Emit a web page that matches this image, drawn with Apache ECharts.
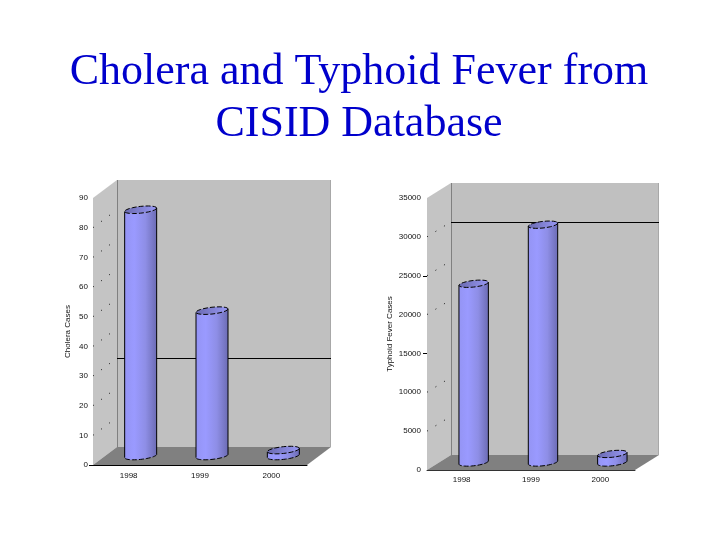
<!DOCTYPE html>
<html><head><meta charset="utf-8">
<style>html,body{margin:0;padding:0;background:#fff}#c{width:720px;height:540px}</style>
<script src="https://cdn.jsdelivr.net/npm/echarts@6/dist/echarts.min.js"></script>
</head><body><div id="c"></div>
<script>
const titleText = "Cholera and Typhoid Fever from\nCISID Database";
const years = ["1998", "1999", "2000"];
const choleraCases = [83, 49, 2];
const typhoidCases = [23000, 30600, 1100];
const choleraLimit = 30;
const typhoidLimit = 30000;
const choleraMax = 90, choleraStep = 10;
const typhoidMax = 35000, typhoidStep = 5000;
const choleraName = "Cholera Cases";
const typhoidName = "Typhoid Fever Cases";
const choleraGridValues = [10,20,30,40,50,60,70,80];
const typhoidGridValues = [5000,10000,20000,25000,30000];
const choleraLongTicks = [0];
const typhoidLongTicks = [15000,25000];

const panels = [
  {box:{left:93,top:198,width:214,height:267}, depth:[24,18], r:16, ry:3.4, shear:1.7, lab:7, labY:5, nameGap:21, axisColor:'#000'},
  {box:{left:427,top:198,width:208,height:272}, depth:[24,15], r:14.7, ry:3.3, shear:1.6, lab:6, labY:6, nameGap:33, axisColor:'#333'}
];
const font = 'Liberation Sans';
const crisp = v => Math.round(v) + 0.5;

function wallItem(i, limit, gridVals, longTicks){
  const d = panels[i].depth;
  return function(params, api){
    const cs = params.coordSys, l=cs.x, r=cs.x+cs.width, t=cs.y, b=cs.y+cs.height;
    const kids = [
      {type:'polygon',shape:{points:[[l,t],[l+d[0],t-d[1]],[l+d[0],b-d[1]],[l,b]]},style:{fill:'#c4c4c4'}},
      {type:'polygon',shape:{points:[[l+d[0],t-d[1]],[r+d[0],t-d[1]],[r+d[0],b-d[1]],[l+d[0],b-d[1]]]},style:{fill:'#c0c0c0'}},
      {type:'polygon',shape:{points:[[l,b],[r,b],[r+d[0],b-d[1]],[l+d[0],b-d[1]]]},style:{fill:'#808080'}},
      {type:'line',shape:{x1:l+d[0]+0.5,y1:t-d[1],x2:l+d[0]+0.5,y2:b-d[1]},style:{stroke:'#808080',lineWidth:1}},
      {type:'line',shape:{x1:r+d[0]-0.5,y1:t-d[1],x2:r+d[0]-0.5,y2:b-d[1]},style:{stroke:'#a8a8a8',lineWidth:1}}
    ];
    const ly = crisp(api.coord([0,limit])[1]-d[1]);
    kids.push({type:'line',shape:{x1:l+d[0],y1:ly,x2:r+d[0],y2:ly},style:{stroke:'#000',lineWidth:1}});
    gridVals.forEach(v=>{
      const y=api.coord([0,v])[1];
      kids.push({type:'line',shape:{x1:l,y1:y,x2:l+d[0],y2:y-d[1]},style:{stroke:'#111',lineWidth:1,lineDash:[1,9]}});
    });
    longTicks.forEach(v=>{
      const y=crisp(api.coord([0,v])[1]);
      kids.push({type:'line',shape:{x1:l-4,y1:y,x2:l,y2:y},style:{stroke:'#000',lineWidth:1}});
    });
    return {type:'group',children:kids};
  };
}

function barItem(i){
  const p = panels[i];
  return function(params, api){
    const c = api.coord([api.value(0), 0]);
    const top = api.coord([api.value(0), api.value(1)]);
    const cx = c[0]+p.depth[0]/2, by = c[1]-p.depth[1]/2, ty = top[1]-p.depth[1]/2;
    const N=24, ell=(cy,a0,a1)=>{
      const pts=[];
      for(let k=0;k<=N;k++){
        const a=a0+(a1-a0)*k/N;
        pts.push([cx+p.r*Math.cos(a), cy+p.ry*Math.sin(a)-p.shear*Math.cos(a)]);
      }
      return pts;
    };
    const grad = {type:'linear',x:0,y:0,x2:1,y2:0,colorStops:[
      {offset:0,color:'#9494f4'},{offset:0.3,color:'#9a9aff'},{offset:0.65,color:'#8e8ee6'},{offset:1,color:'#6c6cb4'}]};
    const capGrad = {type:'linear',x:0,y:0,x2:1,y2:0,colorStops:[
      {offset:0,color:'#6a6ab0'},{offset:1,color:'#9898f4'}]};
    return {type:'group',children:[
      {type:'polygon',shape:{points:ell(by,0,Math.PI).concat(ell(ty,Math.PI,0))},style:{fill:grad}},
      {type:'polygon',shape:{points:ell(ty,0,2*Math.PI)},style:{fill:capGrad}},
      {type:'polyline',shape:{points:ell(by,0,Math.PI)},style:{fill:'none',stroke:'#000',lineWidth:1,lineDash:[5,2]}},
      {type:'polygon',shape:{points:ell(ty,0,2*Math.PI)},style:{fill:'none',stroke:'#000',lineWidth:1,lineDash:[5,2]}},
      {type:'line',shape:{x1:cx-p.r,y1:by+p.shear,x2:cx-p.r,y2:ty+p.shear},style:{stroke:'#000',lineWidth:1}},
      {type:'line',shape:{x1:cx+p.r,y1:by-p.shear,x2:cx+p.r,y2:ty-p.shear},style:{stroke:'#000',lineWidth:1}}
    ]};
  };
}

function xAxis(i){
  return {type:'category',gridIndex:i,data:years,boundaryGap:true,
    axisLine:{show:true,lineStyle:{color:panels[i].axisColor,width:1}},axisTick:{show:false},splitLine:{show:false},
    axisLabel:{color:'#111',fontFamily:font,fontSize:8,margin:panels[i].lab}};
}
function yAxis(i,max,step,name){
  return {type:'value',gridIndex:i,min:0,max:max,interval:step,name:name,nameLocation:'middle',nameGap:panels[i].nameGap,
    nameTextStyle:{color:'#111',fontFamily:font,fontSize:8},
    axisLine:{show:false},axisTick:{show:false},splitLine:{show:false},
    axisLabel:{color:'#111',fontFamily:font,fontSize:8,margin:panels[i].labY,formatter:v=>String(v)}};
}
function series(i,vals,limit,gridVals,longTicks){
  return [
    {type:'custom',xAxisIndex:i,yAxisIndex:i,z:1,silent:true,data:[[0,0]],encode:{x:0,y:1},renderItem:wallItem(i,limit,gridVals,longTicks)},
    {type:'custom',xAxisIndex:i,yAxisIndex:i,z:3,silent:true,data:vals.map((v,k)=>[k,v]),encode:{x:0,y:1},renderItem:barItem(i)}
  ];
}

const chart = echarts.init(document.getElementById('c'),null,{renderer:'canvas'});
chart.setOption({
  animation:false,backgroundColor:'#fff',
  title:{text:titleText,left:354,top:41,textAlign:'center',
    textStyle:{fontFamily:'Liberation Serif',fontSize:44,fontWeight:'normal',color:'#0000cc',lineHeight:52}},
  grid:panels.map(p=>Object.assign({containLabel:false},p.box)),
  xAxis:[xAxis(0),xAxis(1)],
  yAxis:[yAxis(0,choleraMax,choleraStep,choleraName),yAxis(1,typhoidMax,typhoidStep,typhoidName)],
  series:[...series(0,choleraCases,choleraLimit,choleraGridValues,choleraLongTicks),
          ...series(1,typhoidCases,typhoidLimit,typhoidGridValues,typhoidLongTicks)]
});
</script></body></html>
